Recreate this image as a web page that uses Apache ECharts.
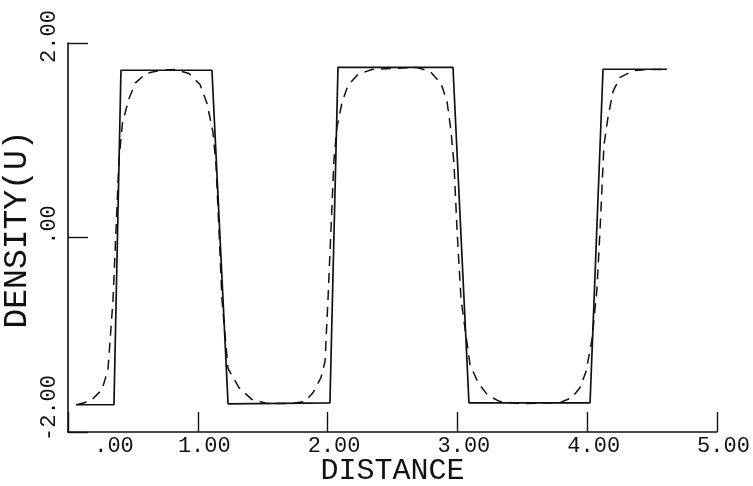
<!DOCTYPE html>
<html>
<head>
<meta charset="utf-8">
<script src="https://cdn.jsdelivr.net/npm/echarts@6/dist/echarts.min.js"></script>
<style>html,body{margin:0;padding:0;background:#fff;}#c{width:753px;height:486px;}</style>
</head>
<body>
<div id="c"></div>
<script>
// Tick labels
var xTickValues = [0, 1, 2, 3, 4, 5];
var xTickLabels = ['.00', '1.00', '2.00', '3.00', '4.00', '5.00'];
var yTickValues = [-2, 0, 2];
var yTickLabels = ['-2.00', '.00', '2.00'];

// Solid curve (DISTANCE, DENSITY)
var solidX = [0.062, 0.354, 0.408, 1.109, 1.233, 2.018, 2.080, 2.966, 3.089, 4.022, 4.122, 4.615];
var solidY = [-1.72, -1.72, 1.72, 1.72, -1.71, -1.70, 1.75, 1.75, -1.70, -1.70, 1.73, 1.73];

// Dashed curve
var dashX = [0.069, 0.177, 0.262, 0.308, 0.347, 0.370, 0.393, 0.420, 0.470, 0.520, 0.601, 0.709, 0.824,
  0.932, 1.017, 1.071, 1.117, 1.140, 1.163, 1.186, 1.233, 1.317, 1.418, 1.541, 1.710, 1.826, 1.888,
  1.949, 1.980, 2.003, 2.026, 2.049, 2.072, 2.111, 2.157, 2.234, 2.342, 2.689, 2.789, 2.874, 2.920,
  2.951, 2.974, 2.997, 3.028, 3.097, 3.159, 3.236, 3.328, 3.482, 3.790, 3.883, 3.945, 3.991, 4.037,
  4.075, 4.099, 4.129, 4.160, 4.199, 4.253, 4.361, 4.484, 4.615];
var dashY = [-1.72, -1.677, -1.564, -1.358, -0.638, 0.082, 0.802, 1.180, 1.430, 1.590, 1.687, 1.718, 1.728,
  1.687, 1.574, 1.379, 1.08, 0.751, 0.082, -0.638, -1.348, -1.543, -1.667, -1.708, -1.708, -1.687, -1.595,
  -1.44, -1.276, -0.638, 0.082, 0.802, 1.132, 1.389, 1.564, 1.677, 1.728, 1.749, 1.708, 1.584, 1.399,
  1.091, 0.751, 0.082, -0.638, -1.307, -1.492, -1.626, -1.687, -1.708, -1.698, -1.646, -1.543, -1.379, -1.049,
  -0.535, 0.082, 0.947, 1.235, 1.502, 1.646, 1.718, 1.728, 1.728];

function pairs(xs, ys) { return xs.map(function (x, i) { return [x, ys[i]]; }); }

var FONT = 'Liberation Mono';
var INK = '#111';
var TS = 22;

var chart = echarts.init(document.getElementById('c'), null, { renderer: 'canvas' });
chart.setOption({
  animation: false,
  backgroundColor: '#fff',
  grid: { left: 68, right: 36, top: 43, bottom: 54, containLabel: false, outerBoundsMode: 'none' },
  xAxis: {
    type: 'value', min: 0, max: 5, interval: 1,
    name: 'DISTANCE', nameLocation: 'middle', nameGap: 24, nameMoveOverlap: false,
    nameTextStyle: { fontFamily: FONT, fontSize: 30, color: INK },
    axisLine: { show: true, onZero: false, lineStyle: { color: INK, width: 1.6 } },
    axisTick: { show: true, inside: true, length: 20, lineStyle: { color: INK, width: 1.4 } },
    splitLine: { show: false },
    axisLabel: {
      show: true, showMinLabel: true, showMaxLabel: true, margin: 3,
      fontFamily: FONT, fontSize: TS, color: INK,
      align: 'center', verticalAlign: 'top',
      formatter: function (v) {
        var i = xTickValues.indexOf(v);
        var t = i >= 0 ? xTickLabels[i] : '';
        return v === 0 ? '{z|' + t + '}' : '{n|' + t + '}';
      },
      rich: {
        n: { fontFamily: FONT, fontSize: TS, color: INK, padding: [0, 0, 0, 13] },
        z: { fontFamily: FONT, fontSize: TS, color: INK, padding: [0, 0, 0, 92] }
      }
    }
  },
  yAxis: {
    type: 'value', min: -2, max: 2, interval: 2,
    name: 'DENSITY(U)', nameLocation: 'middle', nameGap: 34, nameRotate: 90, nameMoveOverlap: false,
    nameTextStyle: { fontFamily: FONT, fontSize: 33, color: INK, padding: [0, 0, 0, 16] },
    axisLine: { show: true, lineStyle: { color: INK, width: 1.6 } },
    axisTick: { show: true, inside: true, length: 20, lineStyle: { color: INK, width: 1.4 } },
    splitLine: { show: false },
    axisLabel: {
      show: true, showMinLabel: true, showMaxLabel: true, rotate: 90, margin: 8,
      fontFamily: FONT, fontSize: TS, color: INK,
      align: 'center', verticalAlign: 'bottom',
      formatter: function (v) {
        var i = yTickValues.indexOf(v);
        var t = i >= 0 ? yTickLabels[i] : '';
        if (v === -2) return '{m|' + t + '}';
        if (v === 0) return '{z|' + t + '}';
        return '{n|' + t + '}';
      },
      rich: {
        n: { fontFamily: FONT, fontSize: TS, color: INK, padding: [0, 0, 0, 13] },
        z: { fontFamily: FONT, fontSize: TS, color: INK, padding: [0, 0, 0, 25] },
        m: { fontFamily: FONT, fontSize: TS, color: INK, padding: [0, 0, 0, 48] }
      }
    }
  },
  series: [
    {
      type: 'line', name: 'solid', data: pairs(solidX, solidY), showSymbol: false, symbol: 'none',
      lineStyle: { color: INK, width: 1.7, type: 'solid' }, z: 3
    },
    {
      type: 'line', name: 'dashed', data: pairs(dashX, dashY), showSymbol: false, symbol: 'none', smooth: false,
      lineStyle: { color: INK, width: 1.5, type: [10, 7] }, z: 2
    }
  ]
});
</script>
</body>
</html>
